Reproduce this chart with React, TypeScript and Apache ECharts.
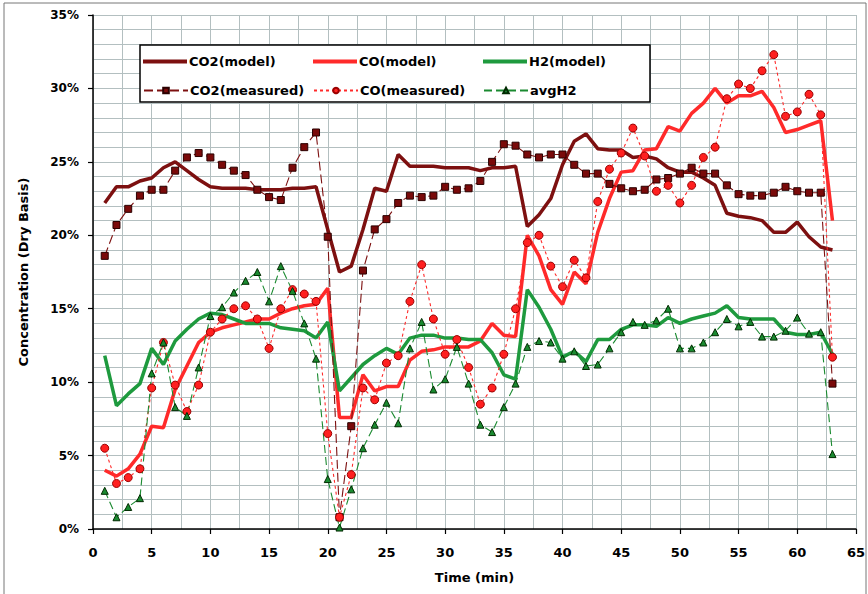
import React, { useEffect, useRef } from "react";
import * as echarts from "echarts";

const time = [1,2,3,4,5,6,7,8,9,10,11,12,13,14,15,16,17,18,19,20,21,22,23,24,25,26,27,28,29,30,31,32,33,34,35,36,37,38,39,40,41,42,43,44,45,46,47,48,49,50,51,52,53,54,55,56,57,58,59,60,61,62,63];

const co2Model = [22.2,23.3,23.3,23.7,23.9,24.6,25.0,24.4,23.8,23.3,23.2,23.2,23.2,23.1,23.1,23.1,23.2,23.2,23.3,20.4,17.5,17.9,20.4,23.2,23.0,25.5,24.7,24.7,24.7,24.6,24.6,24.6,24.4,24.6,24.6,24.7,20.6,21.4,22.5,24.8,26.4,26.9,25.9,25.8,25.8,25.3,25.4,25.2,24.6,24.3,24.3,23.9,23.4,21.5,21.3,21.2,21.0,20.2,20.2,20.9,19.9,19.2,19.0];

const coModel = [4.0,3.6,4.1,5.1,7.0,6.9,9.5,11.1,12.7,13.4,13.7,13.9,14.1,14.3,14.3,14.7,15.0,15.2,15.3,16.4,7.6,7.6,10.5,9.4,9.7,9.7,11.5,12.1,12.2,12.4,12.4,12.4,12.8,14.0,13.2,13.1,20.0,18.6,16.3,15.3,17.5,16.7,20.2,22.5,24.3,24.4,25.8,25.9,27.4,27.1,28.3,29.0,30.0,29.0,29.5,29.5,29.8,28.7,27.0,27.2,27.5,27.8,21.0];

const h2Model = [11.8,8.4,9.2,9.9,12.3,11.2,12.8,13.6,14.3,14.7,14.6,14.3,14.0,14.0,14.0,13.7,13.6,13.5,13.0,14.1,9.4,10.3,11.2,11.8,12.3,11.9,13.0,13.2,13.2,13.0,13.0,12.9,12.9,12.0,10.5,10.2,16.3,15.1,13.6,11.7,12.1,11.4,12.9,12.9,13.6,13.9,13.9,13.8,14.4,14.0,14.3,14.5,14.7,15.2,14.4,14.3,14.3,14.3,13.4,13.25,13.25,13.4,11.9];

const co2Measured = [18.6,20.7,21.8,22.7,23.1,23.1,24.4,25.3,25.6,25.3,24.8,24.4,24.1,23.1,22.6,22.4,24.6,26.0,27.0,19.9,0.8,7.0,17.6,20.4,21.1,22.2,22.7,22.6,22.7,23.3,23.1,23.2,23.7,25.0,26.2,26.1,25.5,25.3,25.5,25.5,24.8,24.2,24.2,23.5,23.2,23.0,23.1,23.8,23.9,24.2,24.6,24.2,24.2,23.4,22.8,22.7,22.7,22.9,23.3,23.0,22.9,22.9,9.9];

const coMeasured = [5.5,3.1,3.5,4.1,9.6,12.7,9.8,8.0,9.8,13.4,14.3,15.0,15.2,14.3,12.3,15.0,16.3,16.0,15.5,6.5,0.8,3.7,9.6,8.8,11.3,11.8,15.5,18.0,14.3,11.9,12.9,11.0,8.5,9.6,11.9,15.0,19.5,20.0,17.9,16.5,18.3,17.1,22.3,24.5,25.6,27.3,25.4,23.0,23.4,22.2,23.4,25.3,26.0,29.3,30.3,30.0,31.2,32.3,28.1,28.4,29.6,28.2,11.7];

const avgH2 = [2.6,0.8,1.5,2.1,10.6,12.7,8.3,7.7,11.0,14.5,15.1,16.1,16.9,17.5,15.5,17.9,16.2,14.0,11.6,3.4,0.1,2.7,5.5,7.1,8.6,7.2,12.3,14.1,9.5,10.2,12.4,9.9,7.1,6.6,8.3,9.9,12.4,12.8,12.7,11.6,12.1,11.1,11.2,12.3,13.4,14.1,13.9,14.2,15.0,12.3,12.3,12.7,13.4,14.3,13.8,14.1,13.1,13.1,13.5,14.4,13.3,13.4,5.1];

const seriesNames = ["CO2(model)", "CO(model)", "H2(model)", "CO2(measured)", "CO(measured)", "avgH2"];
const xTicks = { min: 0, max: 65, step: 5 };
const yTicks = { min: 0, max: 35, step: 5 };

const FONT = "DejaVu Sans";

function pairs(vals: number[]) {
  return time.map((t, i) => [t, vals[i]]);
}

export default function App() {
  const ref = useRef<HTMLDivElement>(null);
  useEffect(() => {
    if (!ref.current) return;
    const chart = echarts.init(ref.current, null, { renderer: "svg" });
    const legendPos = [
      { left: 143, top: 55 },
      { left: 313, top: 55 },
      { left: 483, top: 55 },
      { left: 143, top: 84 },
      { left: 313, top: 84 },
      { left: 483, top: 84 },
    ];
    const legends = seriesNames.map((n, i) => {
      const isModel = i < 3;
      return {
        data: [isModel ? { name: n, icon: "rect" } : { name: n }],
        left: legendPos[i].left,
        top: legendPos[i].top,
        itemWidth: 44,
        itemHeight: isModel ? 4 : 7,
        itemGap: 0,
        padding: 0,
        z: 10,
        selectedMode: false,
        textStyle: { fontFamily: FONT, fontWeight: "bold", fontSize: 13, color: "#000", padding: [0, 0, 0, -3] },
      };
    });
    const modelLine = (name: string, vals: number[], color: string) => ({
      name,
      type: "line",
      data: pairs(vals),
      symbol: "none",
      lineStyle: { color, width: 3.5 },
      itemStyle: { color },
      z: 2,
    });
    const measLine = (
      name: string,
      vals: number[],
      color: string,
      lineColor: string,
      symbol: string,
      size: number,
      dash: number[],
      border: string
    ) => ({
      name,
      type: "line",
      data: pairs(vals),
      symbol,
      symbolSize: size,
      showAllSymbol: true,
      lineStyle: { color: lineColor, width: 1.1, type: dash },
      itemStyle: { color, borderColor: border, borderWidth: 1 },
      z: 3,
    });
    chart.setOption({
      animation: false,
      backgroundColor: "#fff",
      textStyle: { fontFamily: FONT },
      grid: { left: 93, right: 9, top: 15, bottom: 65 },
      legend: legends,
      graphic: [
        {
          type: "rect",
          shape: { x: 4, y: 3, width: 862, height: 620 },
          style: { fill: "none", stroke: "#777", lineWidth: 1 },
          z: 1,
        },
        {
          type: "rect",
          shape: { x: 140, y: 45, width: 510, height: 57 },
          style: { fill: "#fff", stroke: "#000", lineWidth: 1.5 },
          z: 5,
        },
      ],
      xAxis: {
        type: "value",
        min: xTicks.min,
        max: xTicks.max,
        interval: xTicks.step,
        name: "Time (min)",
        nameLocation: "middle",
        nameGap: 42,
        nameTextStyle: { fontFamily: FONT, fontWeight: "bold", fontSize: 13, color: "#000" },
        axisLine: { show: true, onZero: false, lineStyle: { color: "#000", width: 1.5 } },
        axisTick: { show: true, inside: false, length: 5, lineStyle: { color: "#000", width: 1.2 } },
        axisLabel: { margin: 17, fontFamily: FONT, fontWeight: "bold", fontSize: 13, color: "#000" },
        splitLine: { show: true, lineStyle: { color: "#b3bfc0", width: 1 } },
        minorTick: { show: false, splitNumber: 2 },
        minorSplitLine: { show: true, lineStyle: { color: "#b3bfc0", width: 1 } },
      },
      yAxis: {
        type: "value",
        min: yTicks.min,
        max: yTicks.max,
        interval: yTicks.step,
        name: "Concentration (Dry Basis)",
        nameLocation: "middle",
        nameGap: 63,
        nameTextStyle: { fontFamily: FONT, fontWeight: "bold", fontSize: 13, color: "#000" },
        axisLine: { show: true, onZero: false, lineStyle: { color: "#000", width: 1.5 } },
        axisTick: { show: true, inside: false, length: 5, lineStyle: { color: "#000", width: 1.2 } },
        axisLabel: {
          margin: 14,
          fontFamily: FONT,
          fontWeight: "bold",
          fontSize: 12,
          color: "#000",
          formatter: (v: number) => `${v}%`,
        },
        splitLine: { show: true, lineStyle: { color: "#b3bfc0", width: 1 } },
        minorTick: { show: false, splitNumber: 5 },
        minorSplitLine: { show: true, lineStyle: { color: "#b3bfc0", width: 1 } },
      },
      series: [
        modelLine(seriesNames[0], co2Model, "#7d1010"),
        modelLine(seriesNames[1], coModel, "#ff2a2a"),
        modelLine(seriesNames[2], h2Model, "#1e9a3e"),
        measLine(seriesNames[3], co2Measured, "#7a0a0a", "#7d1010", "rect", 7, [9, 4], "#2a0000"),
        measLine(seriesNames[4], coMeasured, "#ff2020", "#ff2a2a", "circle", 8, [3, 3], "#9a0000"),
        measLine(seriesNames[5], avgH2, "#1a8a30", "#1a8a30", "triangle", 7, [8, 4], "#002a00"),
      ],
    });
    return () => chart.dispose();
  }, []);
  return (
    <div
      ref={ref}
      style={{ position: "fixed", left: 0, top: 0, width: 868, height: 594, background: "#fff" }}
    />
  );
}
